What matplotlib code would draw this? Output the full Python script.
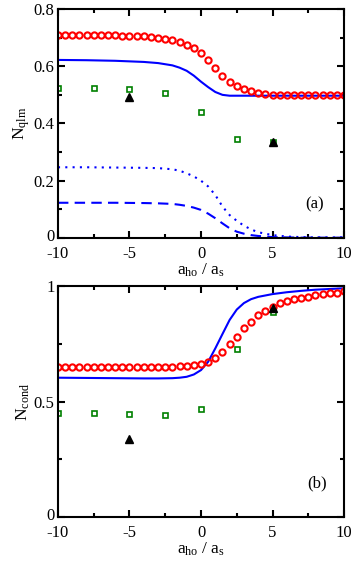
import numpy as np
import matplotlib.pyplot as plt
import matplotlib.transforms as mtransforms
from matplotlib.ticker import MultipleLocator

plt.rcParams['font.family'] = ['Liberation Serif', 'DejaVu Serif']
plt.rcParams['mathtext.fontset'] = 'custom'
plt.rcParams['mathtext.rm'] = 'Liberation Serif'
plt.rcParams['mathtext.it'] = 'Liberation Serif:italic'

# red circles, x = -10..10 step 0.5
x_red = np.arange(-10, 10.01, 0.5)
qlm_red = [0.709, 0.709, 0.709, 0.709, 0.709, 0.709, 0.709, 0.708, 0.708, 0.707,
           0.706, 0.705, 0.704, 0.702, 0.699, 0.695, 0.691, 0.686, 0.674, 0.663,
           0.646, 0.622, 0.594, 0.566, 0.546, 0.531, 0.519, 0.512, 0.507, 0.503,
           0.501, 0.500, 0.500, 0.500, 0.500, 0.500, 0.500, 0.500, 0.500, 0.500, 0.500]
cond_red = [0.648, 0.648, 0.648, 0.648, 0.648, 0.648, 0.648, 0.648, 0.648, 0.648,
            0.648, 0.648, 0.648, 0.648, 0.649, 0.650, 0.651, 0.653, 0.655, 0.658,
            0.663, 0.670, 0.687, 0.716, 0.749, 0.781, 0.817, 0.846, 0.874, 0.893,
            0.910, 0.925, 0.935, 0.942, 0.948, 0.954, 0.960, 0.965, 0.968, 0.971, 0.977]

# blue curves
x_blue = [-10, -8, -6, -4, -3, -2, -1.5, -1, -0.5, 0, 0.5, 1, 1.5, 2, 2.5, 3, 3.5, 4, 5, 6, 7, 8, 9, 10]
qlm_blue = [0.622, 0.621, 0.619, 0.615, 0.611, 0.603, 0.595, 0.584, 0.567, 0.546, 0.527,
            0.510, 0.500, 0.497, 0.497, 0.497, 0.497, 0.497, 0.497, 0.497, 0.497, 0.497, 0.497, 0.497]
qlm_dot = [0.247, 0.247, 0.246, 0.245, 0.244, 0.240, 0.235, 0.226, 0.215, 0.200, 0.180,
           0.150, 0.110, 0.080, 0.060, 0.043, 0.030, 0.020, 0.010, 0.005, 0.003, 0.002, 0.002, 0.002]
qlm_dash = [0.123, 0.123, 0.123, 0.122, 0.121, 0.119, 0.116, 0.112, 0.106, 0.098, 0.085,
            0.069, 0.051, 0.034, 0.022, 0.015, 0.010, 0.007, 0.003, 0.002, 0.001, 0.001, 0.001, 0.001]
cond_blue = [0.603, 0.602, 0.601, 0.600, 0.600, 0.601, 0.603, 0.607, 0.617, 0.636, 0.672,
             0.730, 0.792, 0.853, 0.898, 0.926, 0.943, 0.953, 0.965, 0.973, 0.979, 0.984, 0.987, 0.990]

# green squares and black triangles
x_green = [-10, -7.5, -5, -2.5, 0, 2.5, 5]
qlm_green = [0.523, 0.523, 0.519, 0.505, 0.441, 0.346, 0.334]
cond_green = [0.449, 0.449, 0.447, 0.443, 0.468, 0.726, 0.889]
x_tri = [-5, 5]
qlm_tri = [0.491, 0.336]
cond_tri = [0.336, 0.906]

fig = plt.figure(figsize=(3.54, 5.61), dpi=100)
ax1 = fig.add_axes([0.1638, 0.5758, 0.808, 0.4082])
ax2 = fig.add_axes([0.1638, 0.0784, 0.808, 0.4118])

fs = 12

def style(ax):
    ax.set_xlim(-10, 10)
    ax.xaxis.set_major_locator(MultipleLocator(5))
    ax.xaxis.set_minor_locator(MultipleLocator(2.5))
    ax.tick_params(which='both', direction='in', top=True, right=True, labelsize=fs, width=1.5)
    ax.tick_params(which='major', length=5)
    ax.tick_params(which='minor', length=3)
    ax.tick_params(axis='x', pad=5.5)
    ax.tick_params(axis='y', pad=2.5)
    for s in ax.spines.values():
        s.set_linewidth(1.5)
    ax.set_xticks([-10, -5, 0, 5, 10])
    ax.set_xticklabels(['-10', '-5', '0', '5', '10'])
    ax.set_xlabel(r'a$_{\rm ho}$ / a$_{\rm s}$', fontsize=12.5, labelpad=0)

def lift_zero(ax):
    # nudge the y "0" label up a little so it clears the "-10" below
    lab = ax.get_yticklabels()[0]
    lab.set_transform(lab.get_transform() +
                      mtransforms.ScaledTranslation(0, 2.5 / 72, fig.dpi_scale_trans))

red_kw = dict(ls='none', marker='o', ms=4.5, mfc='none', mec='red', mew=1.5)
green_kw = dict(ls='none', marker='s', ms=3.6, mfc='none', mec='green', mew=1.2)
tri_kw = dict(ls='none', marker='^', ms=5.5, color='black')

ax1.plot(x_blue, qlm_blue, color='blue', lw=1.5)
ax1.plot(x_blue, qlm_dot, color='blue', lw=1.5, ls=(0, (1, 2.5)))
ax1.plot(x_blue, qlm_dash, color='blue', lw=1.5, ls=(0, (5, 3)))
ax1.plot(x_red, qlm_red, **red_kw)
ax1.plot(x_green, qlm_green, **green_kw)
ax1.plot(x_tri, qlm_tri, **tri_kw)
style(ax1)
ax1.set_ylim(0, 0.8)
ax1.yaxis.set_major_locator(MultipleLocator(0.2))
ax1.yaxis.set_minor_locator(MultipleLocator(0.1))
ax1.set_yticks([0, 0.2, 0.4, 0.6, 0.8])
ax1.set_yticklabels(['0', '0.2', '0.4', '0.6', '0.8'])
ax1.set_ylabel(r'N$_{\rm qlm}$', fontsize=12.5, labelpad=1)
ax1.text(0.93, 0.13, '(a)', transform=ax1.transAxes, fontsize=fs, ha='right')
lift_zero(ax1)

ax2.plot(x_blue, cond_blue, color='blue', lw=1.5)
ax2.plot(x_red, cond_red, **red_kw)
ax2.plot(x_green, cond_green, **green_kw)
ax2.plot(x_tri, cond_tri, **tri_kw)
style(ax2)
ax2.set_ylim(0, 1)
ax2.yaxis.set_major_locator(MultipleLocator(0.5))
ax2.yaxis.set_minor_locator(MultipleLocator(0.25))
ax2.set_yticks([0, 0.5, 1])
ax2.set_yticklabels(['0', '0.5', '1'])
ax2.set_ylabel(r'N$_{\rm cond}$', fontsize=12.5, labelpad=1)
ax2.text(0.94, 0.13, '(b)', transform=ax2.transAxes, fontsize=fs, ha='right')
lift_zero(ax2)

fig.savefig('out.png', dpi=100)
